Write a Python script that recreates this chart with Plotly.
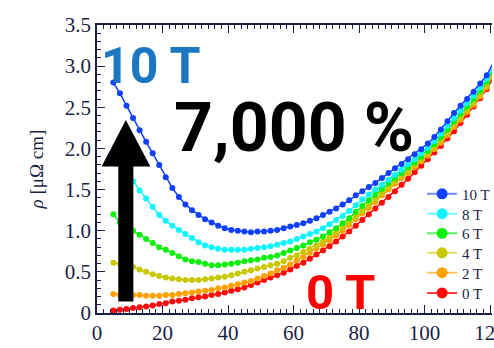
import plotly.graph_objects as go

# Temperature (K)
temperature = [5, 7, 9, 11, 13, 15, 17, 19, 21, 23, 25, 27, 29, 31, 33, 35, 37, 39, 41, 43,
               45, 47, 49, 51, 53, 55, 57, 59, 61, 63, 65, 67, 69, 71, 73, 75, 77, 79, 81, 83,
               85, 87, 89, 91, 93, 95, 97, 99, 101, 103, 105, 107, 109, 111, 113, 115, 117, 119, 121]

rho_10T = [2.80, 2.67, 2.52, 2.37, 2.22, 2.08, 1.94, 1.80, 1.65, 1.52, 1.41, 1.32, 1.25, 1.19, 1.14, 1.10, 1.06, 1.03, 1.01, 1.00,
           0.99, 0.98, 0.99, 0.99, 1.00, 1.01, 1.03, 1.05, 1.07, 1.09, 1.12, 1.15, 1.19, 1.23, 1.27, 1.32, 1.37, 1.43, 1.48, 1.53,
           1.58, 1.64, 1.70, 1.76, 1.81, 1.87, 1.93, 1.99, 2.06, 2.14, 2.23, 2.33, 2.43, 2.52, 2.60, 2.69, 2.79, 2.89, 3.04]
rho_8T = [1.93, 1.82, 1.71, 1.60, 1.49, 1.39, 1.29, 1.19, 1.12, 1.06, 1.01, 0.96, 0.91, 0.86, 0.82, 0.80, 0.78, 0.77, 0.77, 0.77,
          0.77, 0.78, 0.79, 0.80, 0.81, 0.83, 0.85, 0.87, 0.90, 0.93, 0.96, 0.99, 1.03, 1.08, 1.13, 1.18, 1.24, 1.31, 1.38, 1.44,
          1.50, 1.56, 1.62, 1.68, 1.74, 1.81, 1.87, 1.94, 2.01, 2.09, 2.18, 2.28, 2.37, 2.46, 2.55, 2.64, 2.74, 2.85, 3.00]
rho_6T = [1.20, 1.10, 1.05, 1.00, 0.95, 0.90, 0.85, 0.80, 0.77, 0.73, 0.69, 0.65, 0.63, 0.62, 0.60, 0.58, 0.58, 0.59, 0.60, 0.61,
          0.63, 0.64, 0.65, 0.67, 0.68, 0.70, 0.73, 0.76, 0.79, 0.82, 0.86, 0.89, 0.93, 0.98, 1.03, 1.09, 1.15, 1.23, 1.30, 1.37,
          1.44, 1.51, 1.58, 1.64, 1.70, 1.77, 1.83, 1.90, 1.97, 2.05, 2.14, 2.23, 2.33, 2.42, 2.51, 2.60, 2.70, 2.81, 2.96]
rho_4T = [0.61, 0.60, 0.58, 0.56, 0.53, 0.50, 0.47, 0.45, 0.43, 0.42, 0.41, 0.40, 0.40, 0.40, 0.41, 0.42, 0.43, 0.44, 0.46, 0.48,
          0.50, 0.52, 0.54, 0.56, 0.58, 0.60, 0.63, 0.67, 0.70, 0.74, 0.78, 0.82, 0.87, 0.92, 0.98, 1.04, 1.10, 1.17, 1.24, 1.31,
          1.39, 1.46, 1.53, 1.60, 1.67, 1.73, 1.80, 1.87, 1.94, 2.02, 2.10, 2.19, 2.29, 2.38, 2.47, 2.56, 2.66, 2.77, 2.93]
rho_2T = [0.23, 0.22, 0.22, 0.22, 0.22, 0.21, 0.21, 0.21, 0.22, 0.22, 0.23, 0.24, 0.25, 0.26, 0.27, 0.28, 0.30, 0.31, 0.33, 0.35,
          0.37, 0.39, 0.42, 0.45, 0.48, 0.52, 0.55, 0.59, 0.64, 0.68, 0.73, 0.78, 0.83, 0.88, 0.94, 1.00, 1.07, 1.14, 1.21, 1.28,
          1.35, 1.43, 1.50, 1.57, 1.64, 1.70, 1.77, 1.84, 1.91, 1.99, 2.07, 2.16, 2.26, 2.35, 2.44, 2.53, 2.63, 2.74, 2.90]
rho_0T = [0.03, 0.04, 0.05, 0.06, 0.07, 0.08, 0.09, 0.11, 0.12, 0.14, 0.15, 0.16, 0.18, 0.19, 0.20, 0.22, 0.23, 0.25, 0.27, 0.29,
          0.31, 0.34, 0.37, 0.40, 0.43, 0.46, 0.49, 0.53, 0.57, 0.61, 0.66, 0.71, 0.76, 0.81, 0.87, 0.93, 0.99, 1.06, 1.13, 1.20,
          1.27, 1.34, 1.41, 1.48, 1.56, 1.63, 1.71, 1.79, 1.87, 1.95, 2.03, 2.12, 2.21, 2.31, 2.41, 2.51, 2.61, 2.72, 2.86]

series_names = ["10 T", "8 T", "6 T", "4 T", "2 T", "0 T"]
series_values = [rho_10T, rho_8T, rho_6T, rho_4T, rho_2T, rho_0T]
series_colors = ["#1040ff", "#10f4ff", "#10ee10", "#c8c800", "#ffa200", "#ff0a0a"]
legend_line_colors = ["#6f8cff", "#70f8ff", "#60f060", "#dede60", "#ffc060", "#ff4040"]

y_tickvals = [0, 0.5, 1.0, 1.5, 2.0, 2.5, 3.0, 3.5]
y_ticktext = ["0", "0.5", "1.0", "1.5", "2.0", "2.5", "3.0", "3.5"]
x_tickvals = [0, 20, 40, 60, 80, 100, 120]

AXIS = "#1c1f45"
SERIF = "Liberation Serif, Times New Roman, serif"

fig = go.Figure()

# data traces (drawn bottom to top so 10 T ends on top)
for name, vals, col in reversed(list(zip(series_names, series_values, series_colors))):
    fig.add_trace(go.Scatter(
        x=temperature, y=vals, mode="lines+markers", name=name,
        line=dict(color=col, width=1.5),
        marker=dict(color=col, size=6),
        showlegend=False, cliponaxis=False,
    ))

# legend entries: one small legend per series for tight spacing
legend_ids = ["legend", "legend2", "legend3", "legend4", "legend5", "legend6"]
legend_y = [0.413, 0.344, 0.276, 0.208, 0.139, 0.069]
legend_layout = {}
for i, (name, col, lcol) in enumerate(zip(series_names, series_colors, legend_line_colors)):
    fig.add_trace(go.Scatter(
        x=[None], y=[None], mode="lines+markers", name=name,
        line=dict(color=lcol, width=2),
        marker=dict(color=col, size=11),
        showlegend=True, legend=legend_ids[i],
    ))
    legend_layout[legend_ids[i]] = dict(
        x=0.823, y=legend_y[i], xanchor="left", yanchor="middle",
        bgcolor="rgba(0,0,0,0)", borderwidth=0,
        font=dict(family=SERIF, size=15, color=AXIS), itemsizing="trace",
    )

# black arrow (decoration)
fig.add_shape(
    type="path",
    path="M 6.5,0.14 L 11.1,0.14 L 11.1,1.78 L 16.3,1.78 L 8.8,2.345 L 1.4,1.78 L 6.5,1.78 Z",
    xref="x", yref="y", fillcolor="black", line=dict(color="black", width=0), layer="above",
)

fig.add_annotation(x=16.3, y=3.0, text="10 T", showarrow=False, xanchor="center", yanchor="middle",
                   font=dict(family="Roboto", size=50, color="#1b78c0", weight="bold"))
fig.add_annotation(x=60, y=2.25, text="7,000 %", showarrow=False, xanchor="center", yanchor="middle",
                   font=dict(family="Roboto", size=68, color="black", weight="bold"))
fig.add_annotation(x=74.2, y=0.25, text="0 T", showarrow=False, xanchor="center", yanchor="middle",
                   font=dict(family="Roboto", size=49, color="#ff0000", weight="bold"))

fig.update_layout(
    width=494, height=348,
    margin=dict(l=97, r=2, t=25, b=35, autoexpand=False),
    paper_bgcolor="white", plot_bgcolor="white",
    font=dict(family=SERIF, color=AXIS),
    **legend_layout,
)
fig.update_xaxes(
    range=[0, 120.6], tickvals=x_tickvals, ticks="inside", ticklen=8, tickwidth=1.3, tickcolor=AXIS,
    showline=True, linecolor=AXIS, linewidth=1.5, mirror="ticks", showgrid=False, zeroline=False,
    tickfont=dict(family=SERIF, size=21, color=AXIS), automargin=False, ticklabeloverflow="allow",
    minor=dict(dtick=2, ticks="inside", ticklen=4, tickwidth=1, tickcolor=AXIS, showgrid=False),
)
fig.update_yaxes(
    range=[0, 3.5], tickvals=y_tickvals, ticktext=y_ticktext, ticks="inside", ticklen=8, tickwidth=1.3,
    tickcolor=AXIS, showline=True, linecolor=AXIS, linewidth=1.5, mirror=False, showgrid=False, zeroline=False,
    tickfont=dict(family=SERIF, size=21, color=AXIS), automargin=False,
    minor=dict(dtick=0.1, ticks="inside", ticklen=4, tickwidth=1, tickcolor=AXIS, showgrid=False),
    title=dict(text="<i>ρ</i> [μΩ cm]", font=dict(family=SERIF, size=19, color=AXIS), standoff=16),
)

fig.write_html("out.html", config={"displayModeBar": False},
               post_script="document.body.style.margin='0';document.body.style.overflow='hidden';")
